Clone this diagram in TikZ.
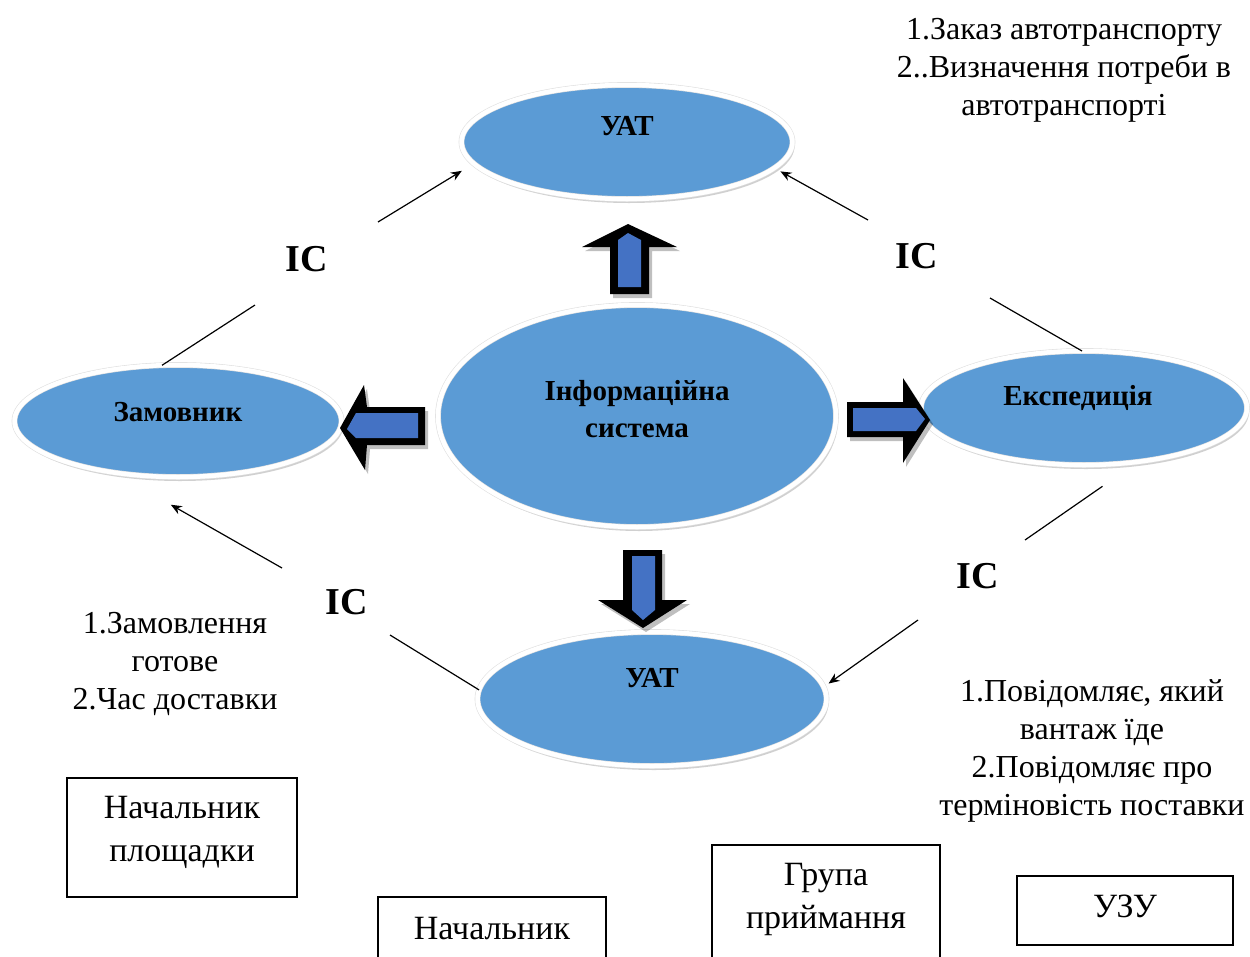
\documentclass[tikz,border=0pt]{standalone}
\usepackage{fontspec}
\setmainfont{Liberation Serif}
\usetikzlibrary{shapes.geometric,shadows,arrows.meta}
\definecolor{ellblue}{RGB}{91,155,213}
\definecolor{arrblue}{RGB}{68,114,196}
\begin{document}
\begin{tikzpicture}[x=1pt,y=-1pt,
  ell/.style={ellipse, inner sep=0pt, outer sep=0pt, fill=ellblue, draw=black!12, double=white, double distance=4.5pt, line width=0.6pt, drop shadow={shadow xshift=2pt, shadow yshift=-4pt, opacity=0.3, fill=black!60}},
  elltxt/.style={font=\fontsize{29pt}{37pt}\selectfont\bfseries, align=center, inner sep=0pt},
  ictxt/.style={font=\fontsize{38pt}{40pt}\selectfont\bfseries, inner sep=0pt},
  note/.style={font=\fontsize{32pt}{38pt}\selectfont, align=center, inner sep=0pt},
  box/.style={draw=black, line width=1.6pt, rectangle, inner sep=0pt},
  boxtxt/.style={font=\fontsize{34pt}{43pt}\selectfont, align=center, inner sep=0pt},
  conn/.style={draw=black, line width=1.2pt},
  arr/.style={conn, -{Stealth[length=11pt,width=9pt]}},
  blk/.style={fill=black},
  blkin/.style={fill=arrblue},
  blkshadow/.style={fill=black, opacity=0.25}
]
\fill[white] (0,0) rectangle (1250,956);
\path[use as bounding box] (0,0) rectangle (1250,956);

% ellipses
\node[ell, minimum width=331pt, minimum height=114pt] (uat1) at (627,142) {};
\node[ell, minimum width=398pt, minimum height=222pt] (info) at (637,416) {};
\node[ell, minimum width=327pt, minimum height=112pt] (zam) at (178,421) {};
\node[ell, minimum width=326pt, minimum height=114pt] (exp) at (1084,408) {};
\node[ell, minimum width=349pt, minimum height=134pt] (uat2) at (652,699) {};

\node[elltxt] (uat1t) at (627,126) {УАТ};
\node[elltxt] (infot) at (637,409) {Інформаційна\\система};
\node[elltxt] (zamt) at (178,412) {Замовник};
\node[elltxt] (expt) at (1078,398) {Експедиція};
\node[elltxt] (uat2t) at (652,678) {УАТ};

% block arrows: shadows
\begin{scope}[shift={(3,4)}]
\fill[blkshadow] (628,224) -- (677,247) -- (649,247) -- (649,294) -- (610,294) -- (610,247) -- (582,247) -- cycle;
\fill[blkshadow] (340,428) -- (364,385) -- (367,407) -- (425,407) -- (425,445) -- (367,445) -- (365,470) -- cycle;
\fill[blkshadow] (847,402) -- (903,402) -- (903,378) -- (930,420) -- (903,463) -- (903,437) -- (847,437) -- cycle;
\fill[blkshadow] (623,550) -- (662,550) -- (662,600) -- (687,600) -- (643,628) -- (598,600) -- (623,600) -- cycle;
\end{scope}
% up
\fill[blk] (628,224) -- (677,247) -- (649,247) -- (649,294) -- (610,294) -- (610,247) -- (582,247) -- cycle;
\fill[blkin] (628,233) -- (641,240) -- (641,287) -- (618,287) -- (618,240) -- cycle;
% left
\fill[blk] (340,428) -- (364,385) -- (367,407) -- (425,407) -- (425,445) -- (367,445) -- (365,470) -- cycle;
\fill[blkin] (347,429) -- (356,413) -- (418,413) -- (418,438) -- (356,438) -- cycle;
% right
\fill[blk] (847,402) -- (903,402) -- (903,378) -- (930,420) -- (903,463) -- (903,437) -- (847,437) -- cycle;
\fill[blkin] (853,408) -- (916,408) -- (925,419) -- (916,431) -- (853,431) -- cycle;
% down
\fill[blk] (623,550) -- (662,550) -- (662,600) -- (687,600) -- (643,628) -- (598,600) -- (623,600) -- cycle;
\fill[blkin] (632,556) -- (655,556) -- (655,610) -- (643,620) -- (632,610) -- cycle;

% IC labels
\node[ictxt] (ic1) at (307,259) {IC};
\node[ictxt] (ic2) at (917,256) {IC};
\node[ictxt] (ic3) at (978,576) {IC};
\node[ictxt] (ic4) at (347,602) {IC};

% connector gap ends
\coordinate (ul1) at (255,305);
\coordinate (ul2) at (378,222);
\coordinate (ur1) at (868,220);
\coordinate (ur2) at (990,298);
\coordinate (lr1) at (1025,540);
\coordinate (lr2) at (918,620);
\coordinate (ll1) at (390,635);
\coordinate (ll2) at (282,568);

\draw[conn] (zam.106.6) -- (ul1);
\draw[arr, shorten >=14pt] (ul2) -- (uat1.188.5);
\draw[arr, shorten >=7pt] (ur1) -- (uat1.350.8);
\draw[conn] (ur2) -- (exp.92);
\draw[conn, shorten <=43pt] (exp.315.9) -- (lr1);
\draw[arr, shorten >=6pt] (lr2) -- (uat2.4.24);
\draw[conn] (uat2.177) -- (ll1);
\draw[arr, shorten >=65pt] (ll2) -- (zam.219.8);

% notes
\node[note] (n1) at (1064,70) {1.Заказ автотранспорту\\2..Визначення потреби в\\автотранспорті};
\node[note] (n2) at (175,664) {1.Замовлення\\готове\\2.Час доставки};
\node[note] (n3) at (1092,751) {1.Повідомляє, який\\вантаж їде\\2.Повідомляє про\\терміновість поставки};

% boxes
\node[box, minimum width=230pt, minimum height=119pt] (b1) at (182,837.5) {};
\node[boxtxt] (b1t) at (182,832) {Начальник\\площадки};
\node[box, minimum width=228pt, minimum height=130pt] (b2) at (492,962) {};
\node[boxtxt] (b2t) at (492,929) {Начальник};
\node[box, minimum width=228pt, minimum height=130pt] (b3) at (826,910) {};
\node[boxtxt] (b3t) at (826,899) {Група\\приймання};
\node[box, minimum width=216pt, minimum height=69pt] (b4) at (1125,910.5) {};
\node[boxtxt] (b4t) at (1125,906) {УЗУ};
\end{tikzpicture}
\end{document}
